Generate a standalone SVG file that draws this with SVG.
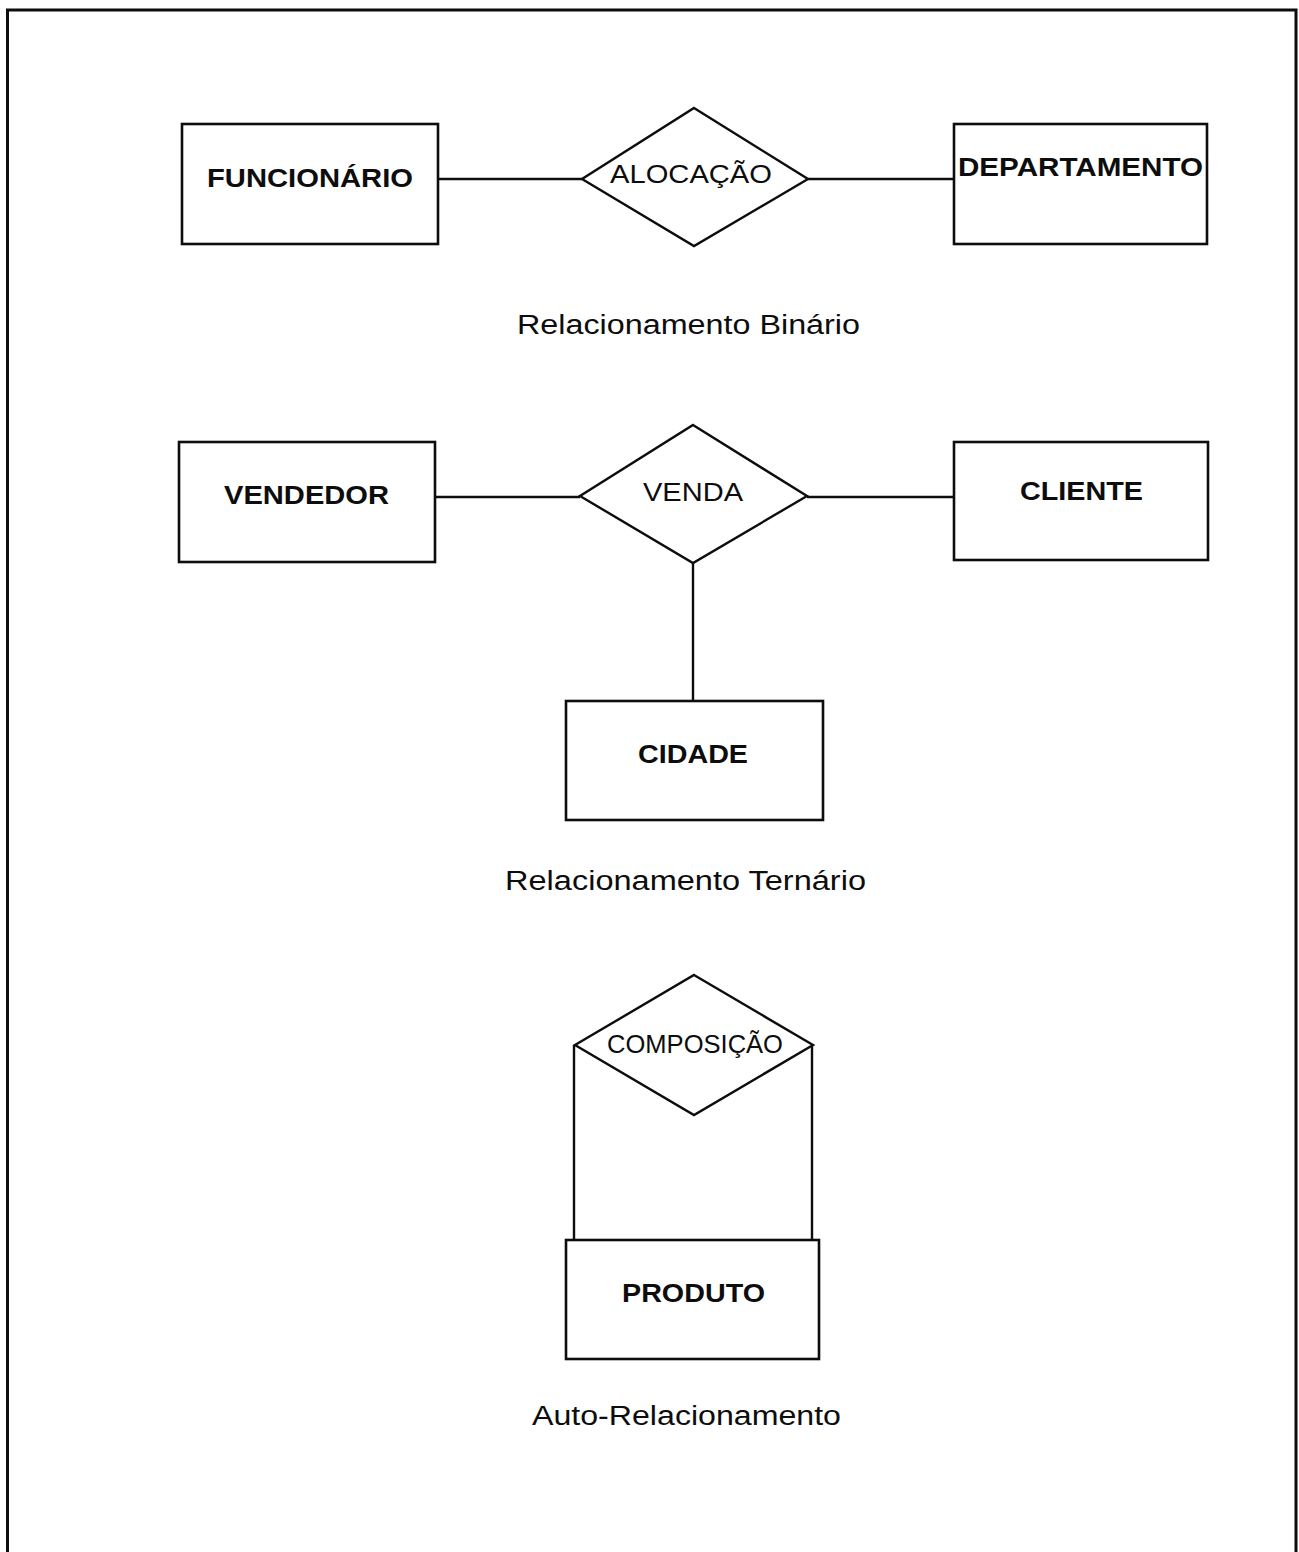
<svg xmlns="http://www.w3.org/2000/svg" width="1299" height="1552" viewBox="0 0 1299 1552">
  <style>
    .ent { fill: #ffffff; stroke: #0d0d0d; stroke-width: 2.6; }
    .rel { fill: #ffffff; stroke: #0d0d0d; stroke-width: 2.4; }
    .ln  { fill: none; stroke: #0d0d0d; stroke-width: 2.4; }
    .frame { fill: none; stroke: #0d0d0d; stroke-width: 3; }
    .en { font-family: "Liberation Sans", Arial, sans-serif; font-weight: bold; font-size: 26px; fill: #0d0d0d; }
    .rn { font-family: "Liberation Sans", Arial, sans-serif; font-size: 25px; fill: #0d0d0d; }
    .cap { font-family: "Liberation Sans", Arial, sans-serif; font-size: 27px; fill: #0d0d0d; }
  </style>

  <rect width="1299" height="1552" fill="#ffffff"/>
  <!-- page frame, open at the bottom -->
  <path class="frame" d="M7.5,1552 V10 H1296 V1552"/>

  <!-- connectors -->
  <g id="connectors">
    <line class="ln" x1="438" y1="179" x2="582" y2="179"/>
    <line class="ln" x1="808" y1="179" x2="954" y2="179"/>
    <line class="ln" x1="435" y1="497" x2="580" y2="497"/>
    <line class="ln" x1="807" y1="497" x2="954" y2="497"/>
    <line class="ln" x1="693" y1="563" x2="693" y2="701"/>
    <line class="ln" x1="574" y1="1045" x2="574" y2="1240"/>
    <line class="ln" x1="812" y1="1045" x2="812" y2="1240"/>
  </g>

  <!-- binary relationship -->
  <g id="funcionario">
    <rect class="ent" x="182" y="124" width="256" height="120"/>
    <text class="en" x="207" y="187" textLength="206" lengthAdjust="spacingAndGlyphs">FUNCIONÁRIO</text>
  </g>
  <g id="alocacao">
    <polygon class="rel" points="694,108 808,179 694,246 582,179"/>
    <text class="rn" x="610" y="183" textLength="162" lengthAdjust="spacingAndGlyphs">ALOCAÇÃO</text>
  </g>
  <g id="departamento">
    <rect class="ent" x="954" y="124" width="253" height="120"/>
    <text class="en" x="958" y="176" textLength="245" lengthAdjust="spacingAndGlyphs">DEPARTAMENTO</text>
  </g>
  <text class="cap" x="517" y="334" textLength="343" lengthAdjust="spacingAndGlyphs">Relacionamento Binário</text>

  <!-- ternary relationship -->
  <g id="vendedor">
    <rect class="ent" x="179" y="442" width="256" height="120"/>
    <text class="en" x="224" y="504" textLength="165" lengthAdjust="spacingAndGlyphs">VENDEDOR</text>
  </g>
  <g id="venda">
    <polygon class="rel" points="693,425 807,496 693,563 580,496"/>
    <text class="rn" x="643" y="501" textLength="100" lengthAdjust="spacingAndGlyphs">VENDA</text>
  </g>
  <g id="cliente">
    <rect class="ent" x="954" y="442" width="254" height="118"/>
    <text class="en" x="1020" y="500" textLength="123" lengthAdjust="spacingAndGlyphs">CLIENTE</text>
  </g>
  <g id="cidade">
    <rect class="ent" x="566" y="701" width="257" height="119"/>
    <text class="en" x="638" y="763" textLength="110" lengthAdjust="spacingAndGlyphs">CIDADE</text>
  </g>
  <text class="cap" x="505" y="890" textLength="361" lengthAdjust="spacingAndGlyphs">Relacionamento Ternário</text>

  <!-- self relationship -->
  <g id="composicao">
    <polygon class="rel" points="694,975 813,1045 694,1115 575,1045"/>
    <text class="rn" x="607" y="1053" font-size="23" textLength="176" lengthAdjust="spacingAndGlyphs">COMPOSIÇÃO</text>
  </g>
  <g id="produto">
    <rect class="ent" x="566" y="1240" width="253" height="119"/>
    <text class="en" x="622" y="1302" textLength="143" lengthAdjust="spacingAndGlyphs">PRODUTO</text>
  </g>
  <text class="cap" x="532" y="1425" textLength="309" lengthAdjust="spacingAndGlyphs">Auto-Relacionamento</text>
</svg>
